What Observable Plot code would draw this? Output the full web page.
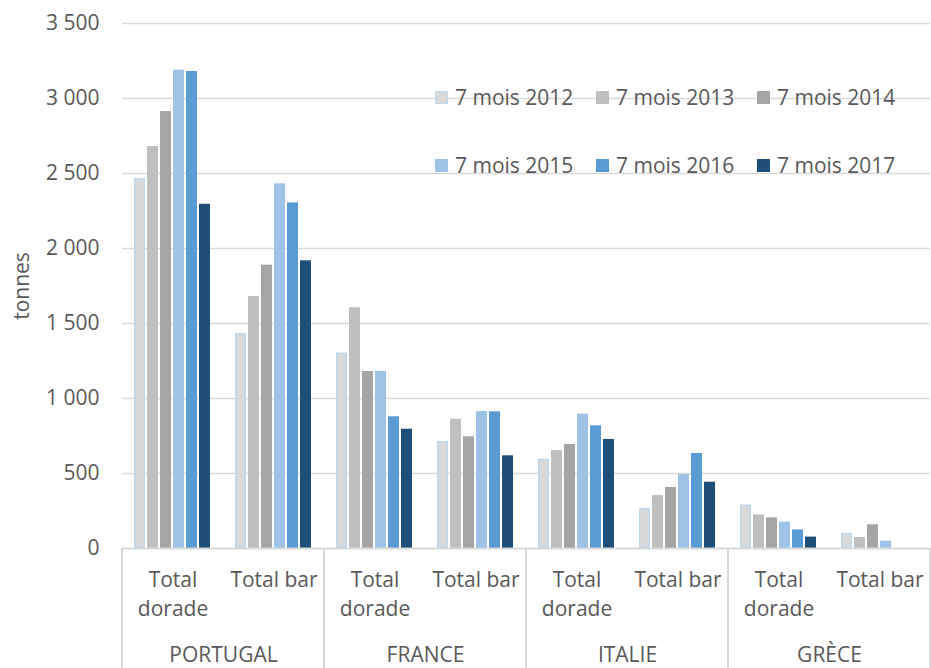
<!DOCTYPE html>
<html>
<head>
<meta charset="utf-8">
<script src="https://cdn.jsdelivr.net/npm/d3@7"></script>
<script src="https://cdn.jsdelivr.net/npm/@observablehq/plot@0.6"></script>
<style>
  html, body { margin: 0; padding: 0; background: white; }
  #wrap { position: relative; width: 931px; height: 668px; font-family: 'Open Sans', sans-serif; color: #595959; }
  #legend { position: absolute; left: 435px; top: 80px; display: grid; grid-template-columns: 161px 161px 161px; grid-auto-rows: 68px; font-size: 21px; }
  .item { display: flex; align-items: center; height: 34px; white-space: nowrap; }
  .sw { width: 13px; height: 13px; margin-right: 7px; box-sizing: border-box; }
</style>
</head>
<body>
<div id="wrap"><div id="legend"></div></div>
<script>
// ---- data ----
const countries = ["PORTUGAL", "FRANCE", "ITALIE", "GRÈCE"];
const products = ["Total\ndorade", "Total bar"];
const years = ["7 mois 2012", "7 mois 2013", "7 mois 2014", "7 mois 2015", "7 mois 2016", "7 mois 2017"];
const colors = ["#D9D9D9", "#BFBFBF", "#A5A5A5", "#9DC3E6", "#5B9BD5", "#1F4E79"];
// values per year, in order: PT dorade, PT bar, FR dorade, FR bar, IT dorade, IT bar, GR dorade, GR bar
const v2012 = [2465, 1431, 1302, 713, 595, 267, 289, 100];
const v2013 = [2680, 1680, 1605, 862, 653, 353, 224, 73];
const v2014 = [2913, 1889, 1180, 745, 693, 407, 204, 158];
const v2015 = [3189, 2431, 1180, 913, 896, 493, 176, 49];
const v2016 = [3180, 2304, 878, 911, 818, 633, 124, null];
const v2017 = [2295, 1918, 795, 618, 727, 442, 76, null];
const yTicks = [0, 500, 1000, 1500, 2000, 2500, 3000, 3500];

// ---- build table ----
const series = [v2012, v2013, v2014, v2015, v2016, v2017];
const keys = [];
const subLabels = [];
const countryLabels = [];
countries.forEach(c => {
  products.forEach((p, j) => {
    const k = c + "|" + p;
    keys.push(k);
    subLabels.push({key: k, label: p});
    if (j === 0) countryLabels.push({key: k, label: c});
  });
});
const rows = [];
series.forEach((vals, i) => {
  vals.forEach((v, g) => {
    if (v != null) rows.push({key: keys[g], year: years[i], value: v});
  });
});

const locale = d3.formatLocale({decimal: ",", thousands: "\u00a0", grouping: [3], currency: ["", " €"]});
const fmt = locale.format(",d");

const chart = Plot.plot({
  width: 931,
  height: 668,
  marginLeft: 121,
  marginRight: 0,
  marginTop: 23,
  marginBottom: 120,
  style: {fontFamily: "'Open Sans', sans-serif", fontSize: "21px", color: "#595959", background: "white", overflow: "visible"},
  fx: {domain: keys, padding: 0, axis: null},
  x: {domain: years, paddingInner: 0.12, paddingOuter: 0.8, axis: null},
  y: {domain: [0, 3500], ticks: yTicks, tickFormat: fmt, tickSize: 0, tickPadding: 23,
      label: "tonnes", labelArrow: "none", labelAnchor: "center", labelOffset: 108},
  color: {domain: years, range: colors},
  marks: [
    Plot.ruleY(yTicks.slice(1), {stroke: "#D9D9D9", strokeWidth: 1.5}),
    Plot.barY(rows, {fx: "key", x: "year", y: "value", fill: "year"}),
    Plot.barY(rows.filter(d => d.year === years[0]), {fx: "key", x: "year", y: "value", fill: "none", stroke: "#BDD7EE", strokeWidth: 1.5, inset: 0.75}),
    Plot.ruleY([0], {stroke: "#D9D9D9", strokeWidth: 2}),
    Plot.text(subLabels, {fx: "key", text: "label", frameAnchor: "bottom", lineAnchor: "top", dy: 18, lineHeight: 1.38, fill: "#595959", fontSize: 21}),
    Plot.text(countryLabels, {fx: "key", text: "label", frameAnchor: "bottom-right", textAnchor: "middle", lineAnchor: "middle", dy: 107, fill: "#595959", fontSize: 21})
  ]
});

document.getElementById("wrap").prepend(chart);

// separators in the category axis, positioned with Plot's fx and y scales
const fxs = chart.scale("fx");
const ys = chart.scale("y");
const y0 = ys.apply(0);
const sepX = countries.map((c, i) => fxs.apply(keys[i * 2]));
sepX.push(fxs.apply(keys[keys.length - 1]) + fxs.bandwidth);
d3.select(chart).append("g")
  .attr("stroke", "#D9D9D9").attr("stroke-width", 2)
  .selectAll("line").data(sepX).join("line")
  .attr("x1", d => d).attr("x2", d => d)
  .attr("y1", y0).attr("y2", 668);

// legend (inside the plot area)
const leg = d3.select("#legend");
years.forEach((y, i) => {
  const it = leg.append("div").attr("class", "item");
  it.append("div").attr("class", "sw")
    .style("background", colors[i])
    .style("border", i === 0 ? "1.5px solid #BDD7EE" : "none");
  it.append("span").text(y);
});
</script>
</body>
</html>
